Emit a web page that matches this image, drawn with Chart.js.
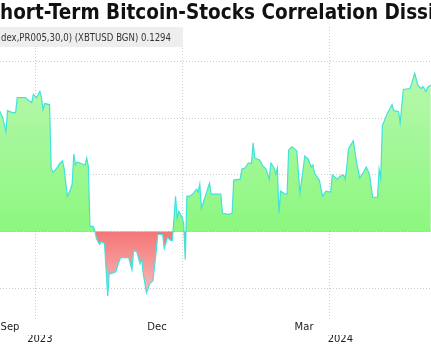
<!DOCTYPE html>
<html>
<head>
<meta charset="utf-8">
<script src="https://cdn.jsdelivr.net/npm/chart.js@4.4.1/dist/chart.umd.min.js"></script>
<style>
  html, body { margin: 0; padding: 0; background: #fff; }
  #wrap { position: relative; width: 431px; height: 360px; overflow: hidden; }
  #chart { position: absolute; left: 0; top: 0; }
  #title { position: absolute; top: -1px; left: 0; white-space: nowrap; font: bold 22px "DejaVu Sans", sans-serif; color: #111; transform-origin: 0 0; }
  #legendBox { position: absolute; left: 0; top: 27px; width: 183px; height: 20px; background: #eeeeee; }
  #legendText { position: absolute; left: 1px; top: 4px; white-space: nowrap; font: 11px "DejaVu Sans", sans-serif; color: #333; transform-origin: 0 0; }
</style>
</head>
<body>
<div id="wrap">
  <canvas id="chart" width="431" height="360"></canvas>
  <div id="title">Short-Term Bitcoin-Stocks Correlation Dissipates</div>
  <div id="legendBox"><span id="legendText">dex,PR005,30,0) (XBTUSD BGN) 0.1294</span></div>
</div>
<script>
const dates = [
  '2023-08-10','2023-08-12','2023-08-14','2023-08-15','2023-08-18','2023-08-20','2023-08-21','2023-08-26',
  '2023-08-28','2023-08-30','2023-08-31','2023-09-02','2023-09-04','2023-09-05','2023-09-06','2023-09-07',
  '2023-09-10','2023-09-11','2023-09-12','2023-09-13','2023-09-15','2023-09-16','2023-09-18','2023-09-19',
  '2023-09-21','2023-09-23','2023-09-24','2023-09-25','2023-09-26','2023-09-27','2023-10-02','2023-10-03',
  '2023-10-04','2023-10-05','2023-10-07','2023-10-08','2023-10-09','2023-10-11','2023-10-12','2023-10-14',
  '2023-10-16','2023-10-17','2023-10-18','2023-10-21','2023-10-23','2023-10-24','2023-10-27','2023-10-29',
  '2023-10-31','2023-11-01','2023-11-03','2023-11-05','2023-11-06','2023-11-07','2023-11-09','2023-11-11',
  '2023-11-13','2023-11-15','2023-11-16','2023-11-19','2023-11-20','2023-11-22','2023-11-24','2023-11-25',
  '2023-11-26','2023-11-27','2023-11-28','2023-11-29','2023-12-01','2023-12-02','2023-12-03','2023-12-04',
  '2023-12-06','2023-12-08','2023-12-10','2023-12-11','2023-12-12','2023-12-13','2023-12-15','2023-12-16',
  '2023-12-18','2023-12-19','2023-12-25','2023-12-26','2023-12-30','2024-01-01','2024-01-02','2024-01-06',
  '2024-01-07','2024-01-09','2024-01-11','2024-01-13','2024-01-14','2024-01-15','2024-01-18','2024-01-20',
  '2024-01-22','2024-01-24','2024-01-25','2024-01-27','2024-01-28','2024-01-29','2024-01-30','2024-01-31',
  '2024-02-03','2024-02-04','2024-02-05','2024-02-07','2024-02-10','2024-02-12','2024-02-15','2024-02-17',
  '2024-02-19','2024-02-20','2024-02-21','2024-02-24','2024-02-26','2024-02-28','2024-03-02','2024-03-03',
  '2024-03-06','2024-03-08','2024-03-10','2024-03-11','2024-03-12','2024-03-13','2024-03-16','2024-03-18',
  '2024-03-20','2024-03-22','2024-03-24','2024-03-26','2024-03-28','2024-03-31','2024-04-01','2024-04-02',
  '2024-04-03','2024-04-06','2024-04-09','2024-04-10','2024-04-13','2024-04-14','2024-04-16','2024-04-20',
  '2024-04-21','2024-04-23','2024-04-25','2024-04-27','2024-04-28','2024-04-30','2024-05-01','2024-05-03'
];
const values = [
  0.1067, 0.1004, 0.0880, 0.1067, 0.1049, 0.1049, 0.1182, 0.1182,
  0.1156, 0.1138, 0.1209, 0.1182, 0.1236, 0.1182, 0.1076, 0.1129,
  0.1120, 0.0560, 0.0524, 0.0533, 0.0569, 0.0596, 0.0622, 0.0560,
  0.0311, 0.0373, 0.0418, 0.0684, 0.0587, 0.0613, 0.0587, 0.0649,
  0.0578, 0.0044, 0.0044, 0.0009, -0.0062, -0.0116, -0.0089, -0.0107,
  -0.0569, -0.0356, -0.0373, -0.0356, -0.0267, -0.0231, -0.0231, -0.0231,
  -0.0338, -0.0169, -0.0178, -0.0284, -0.0240, -0.0373, -0.0542, -0.0462,
  -0.0436, -0.0178, -0.0027, -0.0027, -0.0151, -0.0053, -0.0080, -0.0080,
  0.0107, 0.0311, 0.0116, 0.0178, 0.0124, 0.0071, -0.0249, 0.0311,
  0.0311, 0.0338, 0.0373, 0.0347, 0.0418, 0.0204, 0.0293, 0.0338,
  0.0427, 0.0329, 0.0329, 0.0160, 0.0151, 0.0160, 0.0453, 0.0462,
  0.0551, 0.0560, 0.0604, 0.0604, 0.0782, 0.0649, 0.0631, 0.0578,
  0.0551, 0.0462, 0.0604, 0.0560, 0.0507, 0.0560, 0.0160, 0.0356,
  0.0329, 0.0329, 0.0720, 0.0747, 0.0711, 0.0338, 0.0667, 0.0640,
  0.0569, 0.0587, 0.0516, 0.0453, 0.0311, 0.0356, 0.0347, 0.0498,
  0.0462, 0.0489, 0.0498, 0.0462, 0.0569, 0.0729, 0.0800, 0.0613,
  0.0471, 0.0516, 0.0569, 0.0507, 0.0302, 0.0302, 0.0551, 0.0471,
  0.0933, 0.1040, 0.1120, 0.1067, 0.1058, 0.0960, 0.1253, 0.1262,
  0.1298, 0.1396, 0.1289, 0.1262, 0.1280, 0.1236, 0.1271, 0.1294
];
const monthTicks = ['2023-09-01', '2023-12-01', '2024-03-01'];
const monthLabels = ['Sep', 'Dec', 'Mar'];
const yearTicks = ['2023-09-04', '2024-03-08'];
const yearLabels = ['2023', '2024'];
const yGridValues = [-0.05, 0, 0.05, 0.1, 0.15];

const DAY = 86400000;
const dayNum = s => Date.parse(s + 'T00:00:00Z') / DAY;
const xMin = dayNum('2023-08-10') + 0.33;
const xMax = dayNum('2024-05-03') + 0.1;

// crop title and legend text the way the picture is cropped
function fitOverlays() {
    const mctx = document.createElement('canvas').getContext('2d');
    mctx.font = 'bold 22px "DejaVu Sans"';
    const cut = mctx.measureText('S').width;
    const vis = mctx.measureText('hort-Term Bitcoin-Stocks Correlation Dissi').width;
    const sx = 428 / vis * 1.015;
    document.getElementById('title').style.transform = `translateX(${-cut * sx}px) scaleX(${sx})`;
    mctx.font = '11px "DejaVu Sans"';
    const lw = mctx.measureText('dex,PR005,30,0) (XBTUSD BGN) 0.1294').width;
    document.getElementById('legendText').style.transform = `scaleX(${170 / lw})`;
}
fitOverlays();

function areaGradient(chart) {
    const area = chart.chartArea;
    if (!area) return 'rgba(140,247,127,1)';
    const zeroY = chart.scales.y.getPixelForValue(0);
    const f = (zeroY - area.top) / (area.bottom - area.top);
    const g = chart.ctx.createLinearGradient(0, area.top, 0, area.bottom);
    g.addColorStop(0, '#c3f8ba');
    g.addColorStop(f, '#8cf77f');
    g.addColorStop(f, '#f37676');
    g.addColorStop(1, '#fcd6d6');
    return g;
}

const gridColor = '#cdcdcd';
const labelFont = { family: 'DejaVu Sans', size: 10 };

new Chart(document.getElementById('chart'), {
    type: 'line',
    data: {
        datasets: [{
            data: dates.map((d, i) => ({ x: dayNum(d), y: values[i] })),
            borderColor: '#3fe3dc',
            borderWidth: 1.2,
            pointRadius: 0,
            tension: 0,
            fill: 'origin',
            backgroundColor: ctx => areaGradient(ctx.chart)
        }]
    },
    options: {
        responsive: false,
        animation: false,
        layout: { padding: { top: 27, left: 0, right: 0, bottom: 17 } },
        plugins: {
            legend: { display: false },
            tooltip: { enabled: false }
        },
        scales: {
            x: {
                type: 'linear',
                min: xMin,
                max: xMax,
                z: 1,
                weight: 0,
                afterBuildTicks: s => { s.ticks = monthTicks.map(d => ({ value: dayNum(d) })); },
                ticks: {
                    autoSkip: false,
                    maxRotation: 0,
                    padding: 2,
                    labelOffset: -25,
                    color: '#222',
                    font: labelFont,
                    callback: (v, i) => monthLabels[i]
                },
                grid: { color: gridColor, drawTicks: false },
                border: { display: false, dash: [1, 2] }
            },
            year: {
                type: 'linear',
                position: 'bottom',
                min: xMin,
                max: xMax,
                weight: 1,
                afterBuildTicks: s => { s.ticks = yearTicks.map(d => ({ value: dayNum(d) })); },
                ticks: {
                    autoSkip: false,
                    maxRotation: 0,
                    padding: -2,
                    color: '#222',
                    font: labelFont,
                    callback: (v, i) => yearLabels[i]
                },
                grid: { display: false, drawTicks: false },
                border: { display: false }
            },
            y: {
                min: -0.0773,
                max: 0.1805,
                z: 1,
                afterBuildTicks: s => { s.ticks = yGridValues.map(v => ({ value: v })); },
                ticks: { display: false },
                grid: { color: gridColor, drawTicks: false },
                border: { display: false, dash: [1, 2] }
            }
        }
    }
});
</script>
</body>
</html>
